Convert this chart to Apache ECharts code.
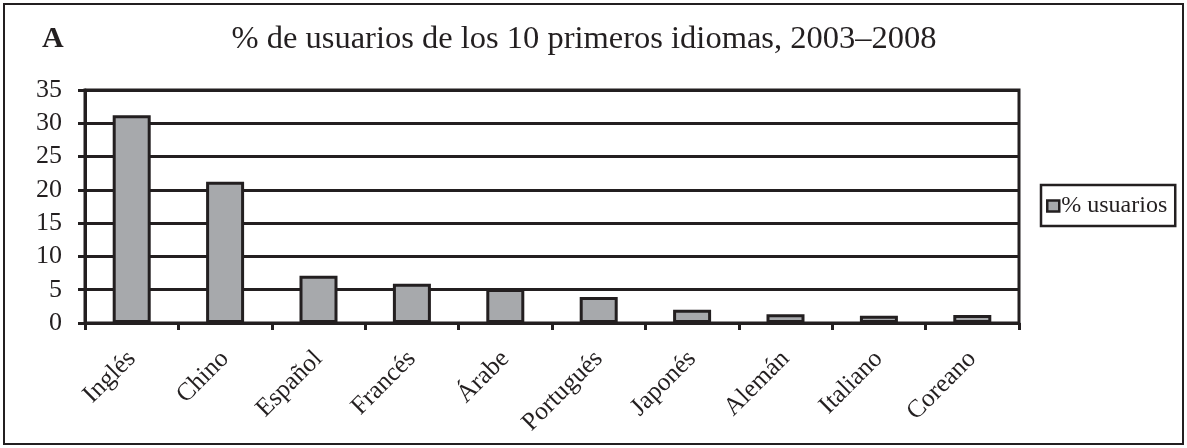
<!DOCTYPE html>
<html>
<head>
<meta charset="utf-8">
<script src="https://cdn.jsdelivr.net/npm/echarts@6/dist/echarts.min.js"></script>
<style>
  html, body { margin: 0; padding: 0; background: #fff; }
  #Grf { width: 1187px; height: 448px; }
</style>
</head>
<body>
<div id="Grf"></div>
<script>
const idiomas = ['Inglés', 'Chino', 'Español', 'Francés', 'Árabe', 'Portugués', 'Japonés', 'Alemán', 'Italiano', 'Coreano'];
const usuarios = [31.2, 21.2, 7.1, 5.9, 5.1, 3.9, 2.0, 1.3, 1.1, 1.2];
const serieNombre = '% usuarios';

const ink = '#231f20';
const font = '"Liberation Serif", "DejaVu Serif", serif';

const getOption = () => {
  return {
    animation: false,
    backgroundColor: '#fff',
    textStyle: { fontFamily: font, color: ink },
    title: [
      {
        text: '% de usuarios de los 10 primeros idiomas, 2003–2008',
        left: 579, top: 18, textAlign: 'center',
        textStyle: { fontFamily: font, fontSize: 32.5, fontWeight: 'normal', color: ink }
      },
      {
        text: 'A',
        left: 37, top: 19,
        textStyle: { fontFamily: font, fontSize: 30, fontWeight: 'bold', color: ink }
      }
    ],
    graphic: [{
      type: 'rect',
      shape: { x: 4, y: 4, width: 1179, height: 440 },
      style: { fill: 'none', stroke: ink, lineWidth: 2 },
      silent: true
    }],
    legend: {
      left: 1041, top: 185,
      orient: 'vertical',
      padding: [9, 8, 8, 5],
      borderColor: ink, borderWidth: 2.5, borderRadius: 0,
      itemWidth: 12, itemHeight: 11, itemGap: 4,
      icon: 'rect',
      textStyle: { fontFamily: font, fontSize: 24, color: ink, padding: [0, 0, 0, -3] },
      itemStyle: { borderColor: ink, borderWidth: 2.5 },
      data: [serieNombre]
    },
    grid: {
      left: 85, right: 168, top: 90, bottom: 125,
      show: true, borderColor: ink, borderWidth: 3
    },
    xAxis: {
      type: 'category',
      data: idiomas,
      axisLine: { lineStyle: { color: ink, width: 3 } },
      axisTick: { show: true, length: 7, lineStyle: { color: ink, width: 3 } },
      axisLabel: {
        rotate: 45, interval: 0, margin: 32,
        fontFamily: font, fontSize: 25.5, color: ink
      }
    },
    yAxis: {
      type: 'value',
      min: 0, max: 35, interval: 5,
      axisLine: { show: true, lineStyle: { color: ink, width: 3 } },
      axisTick: { show: true, length: 7, lineStyle: { color: ink, width: 3 } },
      axisLabel: { fontFamily: font, fontSize: 26, color: ink, margin: 23 },
      splitLine: { lineStyle: { color: ink, width: 3 } }
    },
    series: [{
      name: serieNombre,
      type: 'bar',
      data: usuarios,
      barWidth: 38,
      itemStyle: { color: '#a7a9ac', borderColor: ink, borderWidth: 3 }
    }]
  };
};

const initCharts = () => {
  const grafica = echarts.init(document.querySelector('#Grf'), null, { renderer: 'canvas' });
  grafica.setOption(getOption());
};

initCharts();
</script>
</body>
</html>
